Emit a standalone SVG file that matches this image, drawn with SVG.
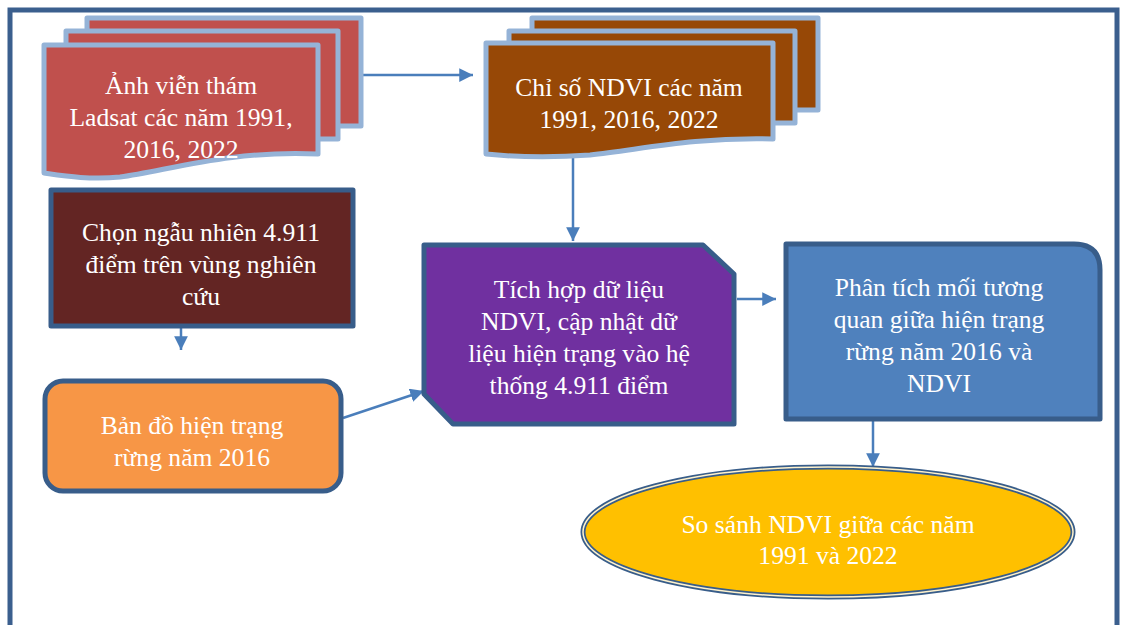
<svg xmlns="http://www.w3.org/2000/svg" width="1121" height="625" viewBox="0 0 1121 625">
<style>
text{font-family:"Liberation Serif","DejaVu Serif",serif;font-size:25.6px;fill:#ffffff;text-anchor:middle}
.doc1{fill:#c0504d;stroke:#95b3d7;stroke-width:5;stroke-linejoin:round}
.doc2{fill:#974806;stroke:#95b3d7;stroke-width:5;stroke-linejoin:round}
.box{stroke:#385d8a;stroke-width:5;stroke-linejoin:round}
.conn{stroke:#4a7ebb;stroke-width:2.5;fill:none;marker-end:url(#ah)}
</style>
<defs>
<marker id="ah" viewBox="0 0 10 10" refX="10" refY="5" markerWidth="5.5" markerHeight="5.5" orient="auto" markerUnits="strokeWidth">
<path d="M0,0 L10,5 L0,10 z" fill="#4a7ebb"/>
</marker>
</defs>
<rect x="0" y="0" width="1121" height="625" fill="#ffffff"/>
<rect x="10" y="10" width="1107" height="700" fill="none" stroke="#3b5f8e" stroke-width="5"/>

<g id="connectors">
<line class="conn" x1="361" y1="75" x2="473" y2="75"/>
<line class="conn" x1="573" y1="158" x2="573" y2="241"/>
<line class="conn" x1="181" y1="328" x2="181" y2="350"/>
<line class="conn" x1="343" y1="418" x2="424" y2="391"/>
<line class="conn" x1="737" y1="299" x2="776" y2="299"/>
<line class="conn" x1="873" y1="421" x2="873" y2="467"/>
</g>

<g id="node-landsat">
<rect class="doc1" x="87" y="18" width="274" height="108"/>
<rect class="doc1" x="66" y="31" width="272" height="108"/>
<path class="doc1" d="M44,45 L318,45 L318,154 C230,150 170,170 120,177 C90,180 65,176 44,173 Z"/>
<text x="181" y="94">Ảnh viễn thám</text>
<text x="181" y="126">Ladsat các năm 1991,</text>
<text x="181" y="158">2016, 2022</text>
</g>

<g id="node-ndvi">
<rect class="doc2" x="532" y="18" width="286" height="92"/>
<rect class="doc2" x="509" y="31" width="286" height="92"/>
<path class="doc2" d="M486,43 L773,43 L773,139 C690,137 640,150 590,155 C550,158 515,157 486,154 Z"/>
<text x="629" y="96">Chỉ số NDVI các năm</text>
<text x="629" y="128">1991, 2016, 2022</text>
</g>

<g id="node-chon">
<rect class="box" x="51" y="190" width="302" height="136" fill="#632523"/>
<text x="201" y="241">Chọn ngẫu nhiên 4.911</text>
<text x="201" y="273">điểm trên vùng nghiên</text>
<text x="201" y="305">cứu</text>
</g>

<g id="node-bando">
<rect class="box" x="45" y="381" width="296" height="110" rx="18" ry="18" fill="#f79646"/>
<text x="192" y="434">Bản đồ hiện trạng</text>
<text x="192" y="466">rừng năm 2016</text>
</g>

<g id="node-tichhop">
<path class="box" d="M424,245 L703,245 L734,274 L734,424 L453,424 L424,394 Z" fill="#7030a0"/>
<text x="579" y="298">Tích hợp dữ liệu</text>
<text x="579" y="330">NDVI, cập nhật dữ</text>
<text x="579" y="362">liệu hiện trạng vào hệ</text>
<text x="579" y="394">thống 4.911 điểm</text>
</g>

<g id="node-phantich">
<path class="box" d="M786,244 L1074,244 Q1100,244 1100,270 L1100,419 L786,419 Z" fill="#4f81bd"/>
<text x="939" y="296">Phân tích mối tương</text>
<text x="939" y="328">quan giữa hiện trạng</text>
<text x="939" y="360">rừng năm 2016 và</text>
<text x="939" y="392">NDVI</text>
</g>

<g id="node-sosanh">
<ellipse cx="828" cy="532" rx="245" ry="65" fill="#ffc000" stroke="#385d8a" stroke-width="5"/>
<ellipse cx="828" cy="532" rx="245" ry="65" fill="none" stroke="#fff2cc" stroke-width="1.5"/>
<text x="828" y="533">So sánh NDVI giữa các năm</text>
<text x="828" y="564">1991 và 2022</text>
</g>
</svg>
